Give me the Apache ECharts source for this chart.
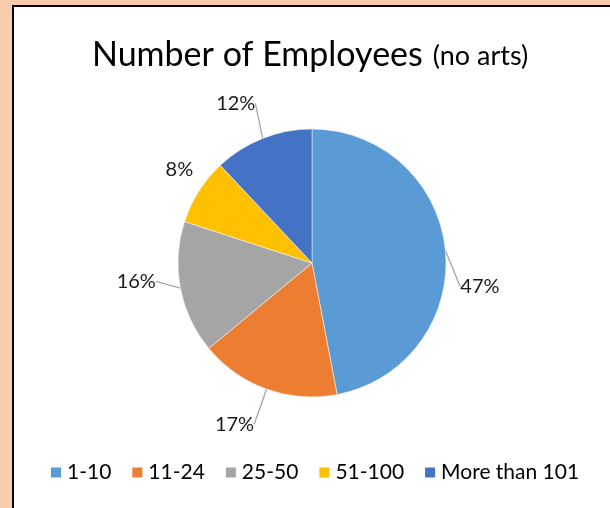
<!DOCTYPE html>
<html>
<head>
<meta charset="utf-8">
<script src="https://cdn.jsdelivr.net/npm/echarts@6/dist/echarts.min.js"></script>
<style>
  html, body { margin: 0; padding: 0; background: #F8CBAD; }
  #chart { width: 610px; height: 508px; }
</style>
</head>
<body>
<div id="chart"></div>
<script>
// Employee-count bands and their share (%) of organisations
const categories = ['1-10', '11-24', '25-50', '51-100', 'More than 101'];
const shares = [47, 17, 16, 8, 12];
const colors = ['#5B9BD5', '#ED7D31', '#A5A5A5', '#FFC000', '#4472C4'];

const FONT = 'Lato, "Open Sans", sans-serif';

// small nudges [dx, dy] applied to each outside label (leader lines are re-routed)
const labelNudge = [[-16, 39], [0, 9], [6, -12], [21, -7], [6, -9]];

const chart = echarts.init(document.getElementById('chart'));
chart.setOption({
  backgroundColor: '#F8CBAD',
  color: colors,
  graphic: [{
    type: 'rect',
    z: -10,
    shape: { x: 13, y: 6, width: 640, height: 540 },
    style: { fill: '#ffffff', stroke: '#000000', lineWidth: 2 }
  }],
  title: {
    text: '{a|Number of Employees}  {b|(no arts)}',
    left: 87,
    top: 33,
    textStyle: {
      fontWeight: 'normal',
      rich: {
        a: { fontFamily: FONT, fontSize: 34, fontWeight: 'normal', color: '#000000' },
        b: { fontFamily: FONT, fontSize: 27, fontWeight: 'normal', color: '#000000', verticalAlign: 'bottom', padding: [0, 0, 2, 0] }
      }
    }
  },
  legend: {
    bottom: 25,
    left: 49,
    padding: 0,
    itemWidth: 12,
    itemHeight: 12,
    itemGap: 19,
    icon: 'rect',
    textStyle: { fontFamily: FONT, fontSize: 21, color: '#000000' },
    data: categories
  },
  series: [{
    type: 'pie',
    center: [312, 263],
    radius: 134,
    startAngle: 90,
    clockwise: true,
    avoidLabelOverlap: false,
    itemStyle: { borderColor: '#ffffff', borderWidth: 0.5 },
    label: {
      show: true,
      position: 'outside',
      formatter: p => p.value + '%',
      fontFamily: FONT,
      fontSize: 20,
      color: '#1a1a1a',
      distanceToLabelLine: 3
    },
    labelLine: {
      show: true,
      length: 28,
      length2: 0,
      lineStyle: { color: '#A6A6A6', width: 1.3 }
    },
    labelLayout: p => {
      const r = p.labelRect;
      const [dx, dy] = labelNudge[p.dataIndex];
      const anchorX = p.align === 'right' ? r.x + r.width
        : p.align === 'center' ? r.x + r.width / 2 : r.x;
      return { x: anchorX + dx, y: r.y + r.height / 2 + dy };
    },
    emphasis: { disabled: true },
    data: categories.map((c, i) => ({
      name: c,
      value: shares[i],
      // the narrow yellow slice's label sits right next to it, with no leader line
      labelLine: { show: i !== 3 }
    }))
  }]
});
</script>
</body>
</html>
